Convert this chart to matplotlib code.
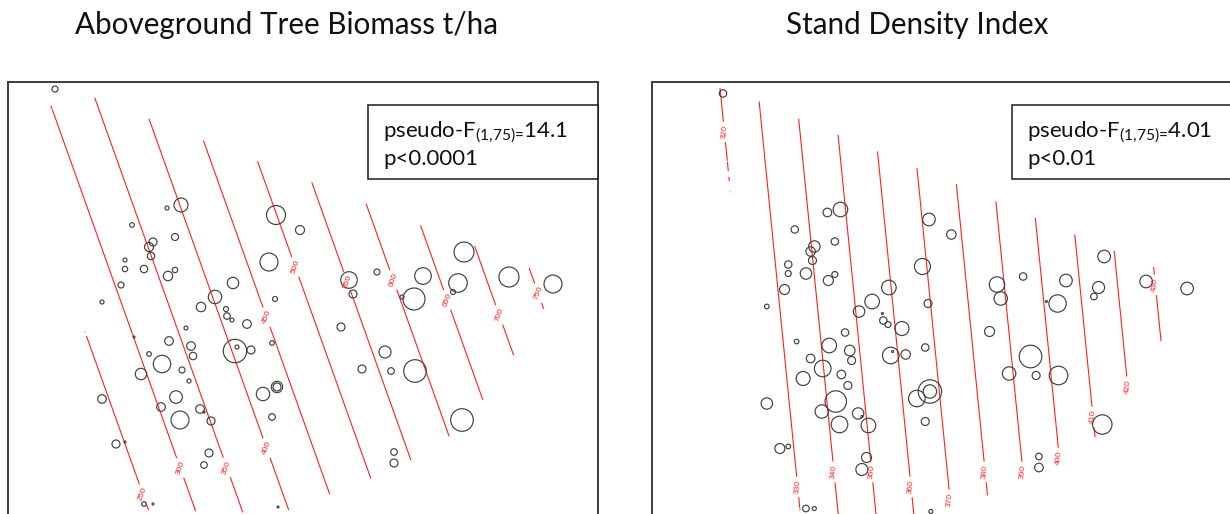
import numpy as np
import matplotlib
matplotlib.use("Agg")
import matplotlib.pyplot as plt
from matplotlib.path import Path
from matplotlib.patches import Rectangle

plt.rcParams["font.family"] = ["Lato", "DejaVu Sans"]
plt.rcParams["mathtext.fontset"] = "custom"
plt.rcParams["mathtext.rm"] = "Lato"
plt.rcParams["mathtext.it"] = "Lato:italic"
plt.rcParams["mathtext.bf"] = "Lato:bold"

DPI = 100

# ordination site scores, shared by both panels (units of the left panel)
site_x = [55, 181, 167, 276, 132, 300, 175, 153, 149, 151, 269, 125, 125, 144, 168, 175,
          233, 121, 349, 377, 423, 464, 458, 509, 553, 102, 134, 201, 215, 226, 227, 232,
          247, 275, 272, 186, 169, 191, 193, 149, 162, 141, 182, 189, 235, 237, 251, 102,
          176, 161, 180, 200, 211, 263, 277, 272, 116, 125, 209, 204, 144, 153, 278, 353,
          414, 402, 453, 341, 385, 362, 391, 415, 462, 394, 394, 277, 204]
site_y = [89, 205, 208, 215, 225, 230, 237, 242, 247, 256, 262, 260, 269, 269, 276, 270,
          283, 285, 280, 272, 276, 252, 283, 277, 284, 302, 337, 307, 297, 309, 316, 320,
          324, 299, 343, 328, 341, 346, 356, 354, 364, 374, 370, 381, 351, 347, 350, 399,
          397, 407, 420, 409, 421, 394, 387, 417, 444, 442, 453, 465, 504, 504, 507, 294,
          299, 297, 292, 327, 352, 369, 371, 371, 420, 452, 463, 387, 412]

# bubble radius (px) for each site
biomass_bubble = [3, 7, 2, 9.5, 2.3, 4.5, 3.5, 4, 4.5, 3.7, 9, 2, 2.7, 3.7, 4.7, 2.7,
                  5.7, 3, 8.3, 3, 8.3, 10, 9.3, 10, 9, 2, 1, 4.7, 6.7, 2.5, 3.3, 2,
                  4.3, 2.5, 2.3, 2, 4.3, 4.3, 3.7, 2.3, 8.7, 5.7, 3, 2, 11.7, 2, 4, 4.3,
                  6.3, 4.3, 9, 4.3, 4, 6.7, 5.7, 3.3, 4, 1, 4, 3.3, 2.3, 1, 1, 4,
                  11, 2, 2.5, 4, 6, 4, 3.3, 11.3, 11.3, 3.3, 4, 4, 1]
sdi_bubble = [3.7, 7.3, 4.3, 6.3, 3.7, 4.7, 3.7, 5.7, 4.7, 4, 8, 3.7, 3, 5.7, 5, 3,
              7.3, 5, 7.7, 3.7, 6.3, 6.3, 6, 6.3, 6.3, 2.3, 2.3, 5.7, 7.3, 1, 3.7, 3,
              7, 4, 3.7, 3.7, 7.3, 5.3, 4, 4.3, 8.3, 7, 4.3, 4, 8.3, 1, 4.7, 5.7,
              10.7, 6.7, 8.3, 5.7, 7.3, 8.3, 11.7, 4, 5, 2.3, 5, 6, 3.3, 2, 2, 6.7,
              8.7, 1, 3.3, 5, 11.3, 6.7, 4, 9.3, 9.7, 3.3, 4.3, 6.7, 1]

# fitted surfaces: intercept, slope along axis 1, slope along axis 2
biomass_surface = [285.9, 1.0707, -0.3823]
sdi_surface = [309.44, 0.2466, -0.02646]
biomass_levels = [250, 300, 350, 400, 450, 500, 550, 600, 650, 700, 750]
sdi_levels = [320, 330, 340, 350, 360, 370, 380, 390, 400, 410, 420, 430]

titles = ["Aboveground Tree Biomass t/ha", "Stand Density Index"]
pseudo_f = ["14.1", "4.01"]
p_values = ["p<0.0001", "p<0.01"]

# where the contour labels sit
biomass_label_at = [(143, 494), (180, 468), (228, 467), (267, 448), (267, 317), (295, 267),
                    (349, 281), (393, 280), (447, 300), (499, 315), (539, 293)]
sdi_label_at = [(55, 127.5), (134.4, 482.5), (173, 467.5), (214.9, 467.5), (256.7, 482.5),
                (298.6, 495.5), (336.1, 467.5), (376.9, 467.5), (415.5, 453.5),
                (452, 412.5), (488.5, 382.5), (517.4, 280.5)]


def convex_hull(pts):
    pts = sorted(set(map(tuple, pts)))

    def cross(o, a, b):
        return (a[0] - o[0]) * (b[1] - o[1]) - (a[1] - o[1]) * (b[0] - o[0])

    lower, upper = [], []
    for p in pts:
        while len(lower) >= 2 and cross(lower[-2], lower[-1], p) <= 0:
            lower.pop()
        lower.append(p)
    for p in reversed(pts):
        while len(upper) >= 2 and cross(upper[-2], upper[-1], p) <= 0:
            upper.pop()
        upper.append(p)
    return np.array(lower[:-1] + upper[:-1], dtype=float)


def hull_mask(gx, gy, hull, pad):
    pts = np.column_stack([gx.ravel(), gy.ravel()])
    inside = Path(np.vstack([hull, hull[:1]])).contains_points(pts)
    d = np.full(len(pts), np.inf)
    for p, q in zip(hull, np.roll(hull, -1, axis=0)):
        seg = q - p
        t = np.clip(((pts - p) @ seg) / (seg @ seg), 0, 1)
        proj = p + t[:, None] * seg
        d = np.minimum(d, np.hypot(*(pts - proj).T))
    return (inside | (d <= pad)).reshape(gx.shape)


fig = plt.figure(figsize=(12.3, 5.14), dpi=DPI)
ax_w, ax_h, ax_b = 590 / 1230, 458 / 514, -26 / 514
axes = [fig.add_axes([8 / 1230, ax_b, ax_w, ax_h]),
        fig.add_axes([652 / 1230, ax_b, ax_w, ax_h])]
limits = [((8, 598), (540, 82)), ((-21.2, 611.9), (535.5, 77.5))]

sx = np.array(site_x, float)
sy = np.array(site_y, float)
hull = convex_hull(np.column_stack([sx, sy]))

panels = [(biomass_bubble, biomass_surface, biomass_levels, biomass_label_at),
          (sdi_bubble, sdi_surface, sdi_levels, sdi_label_at)]

for i, (ax, (bubble, coef, levels, label_at)) in enumerate(zip(axes, panels)):
    (x0, x1), (y0, y1) = limits[i]
    gx, gy = np.meshgrid(np.linspace(x0, x1, 400), np.linspace(y1, y0, 400))
    gz = coef[0] + coef[1] * gx + coef[2] * gy
    gz = np.ma.masked_where(~hull_mask(gx, gy, hull, 7), gz)

    cs = ax.contour(gx, gy, gz, levels=levels, colors="#ff2020", linewidths=0.8)
    ax.clabel(cs, fmt="%d", fontsize=6, colors="#ff2020",
              inline=True, inline_spacing=3, manual=label_at)
    for t in cs.labelTexts:
        t.set_fontfamily("Liberation Sans")

    r = np.array(bubble)
    ax.scatter(sx, sy, s=(2 * r * 72 / DPI) ** 2, facecolors="none",
               edgecolors="#404040", linewidths=0.85, zorder=3)

    ax.set_xlim(x0, x1)
    ax.set_ylim(y0, y1)
    ax.set_xticks([])
    ax.set_yticks([])
    for sp in ax.spines.values():
        sp.set_color("#3c3c3c")
        sp.set_linewidth(1.4)

    ax.add_patch(Rectangle((0.61, 0.788), 0.39, 0.162, transform=ax.transAxes,
                           facecolor="white", edgecolor="#1a1a1a", linewidth=1.1,
                           zorder=5, clip_on=False))
    ax.text(0.6356, 0.880, r"pseudo-F$_{\text{(1,75)=}}$" + pseudo_f[i],
            transform=ax.transAxes, fontsize=16, va="baseline", ha="left",
            color="#111111", zorder=6)
    ax.text(0.6356, 0.818, p_values[i], transform=ax.transAxes,
            fontsize=16, va="baseline", ha="left", color="#111111", zorder=6)

fig.text(286.5 / 1230, 1 - 34 / 514, titles[0], fontsize=21.3, ha="center",
         va="baseline", color="#111111")
fig.text(916.7 / 1230, 1 - 34 / 514, titles[1], fontsize=21.3, ha="center",
         va="baseline", color="#111111")

fig.savefig("out.png", dpi=DPI)
